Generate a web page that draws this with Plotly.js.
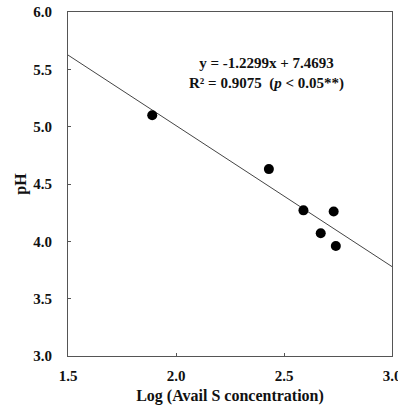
<!DOCTYPE html>
<html>
<head>
<meta charset="utf-8">
<script src="https://cdn.plot.ly/plotly-3.0.1.min.js"></script>
<style>html,body{margin:0;padding:0;background:#fff;}#chart{width:398px;height:408px;}</style>
</head>
<body>
<div id="chart"></div>
<script>
const logS = [1.89, 2.43, 2.59, 2.73, 2.67, 2.74];
const pH = [5.10, 4.63, 4.27, 4.26, 4.07, 3.96];
const slope = -1.2299;
const intercept = 7.4693;
const fitX = [1.5, 3.0];
const xTicks = [1.5, 2.0, 2.5, 3.0];
const yTicks = [3.0, 3.5, 4.0, 4.5, 5.0, 5.5, 6.0];
const eqText = "y = -1.2299x + 7.4693<br>R² = 0.9075  (<i>p</i> < 0.05**)";

const fitY = fitX.map(x => slope * x + intercept);
const font = {family: "Liberation Serif, Times New Roman, serif", color: "#111"};

const traces = [
  {x: fitX, y: fitY, mode: "lines", line: {color: "#444", width: 1}, hoverinfo: "skip"},
  {x: logS, y: pH, mode: "markers", marker: {color: "#000", size: 10}}
];

const axisCommon = {
  showgrid: false, zeroline: false, showline: true, mirror: true,
  linecolor: "#555", linewidth: 1, ticks: "inside", ticklen: 3, tickcolor: "#555",
  tickformat: ".1f", ticklabeloverflow: "allow",
  tickfont: Object.assign({size: 15, weight: "bold"}, font)
};

const layout = {
  width: 398, height: 408,
  margin: {l: 68, r: 6, t: 12, b: 52},
  paper_bgcolor: "#fff", plot_bgcolor: "#fff",
  showlegend: false,
  font: font,
  xaxis: Object.assign({}, axisCommon, {
    range: [1.5, 3.0], tickvals: xTicks, ticklabelstandoff: 6,
    title: {text: "<b>Log (Avail S concentration)</b>", font: Object.assign({size: 16}, font), standoff: 6}
  }),
  yaxis: Object.assign({}, axisCommon, {
    range: [3.0, 6.0], tickvals: yTicks, ticklabelstandoff: 12,
    title: {text: "<b>pH</b>", font: Object.assign({size: 16}, font), standoff: 2}
  }),
  annotations: [{
    x: 2.42, y: 5.46, xref: "x", yref: "y", text: "<b>" + eqText + "</b>",
    showarrow: false, align: "center", font: Object.assign({size: 15}, font)
  }]
};

Plotly.newPlot("chart", traces, layout, {displayModeBar: false, staticPlot: true});
</script>
</body>
</html>
